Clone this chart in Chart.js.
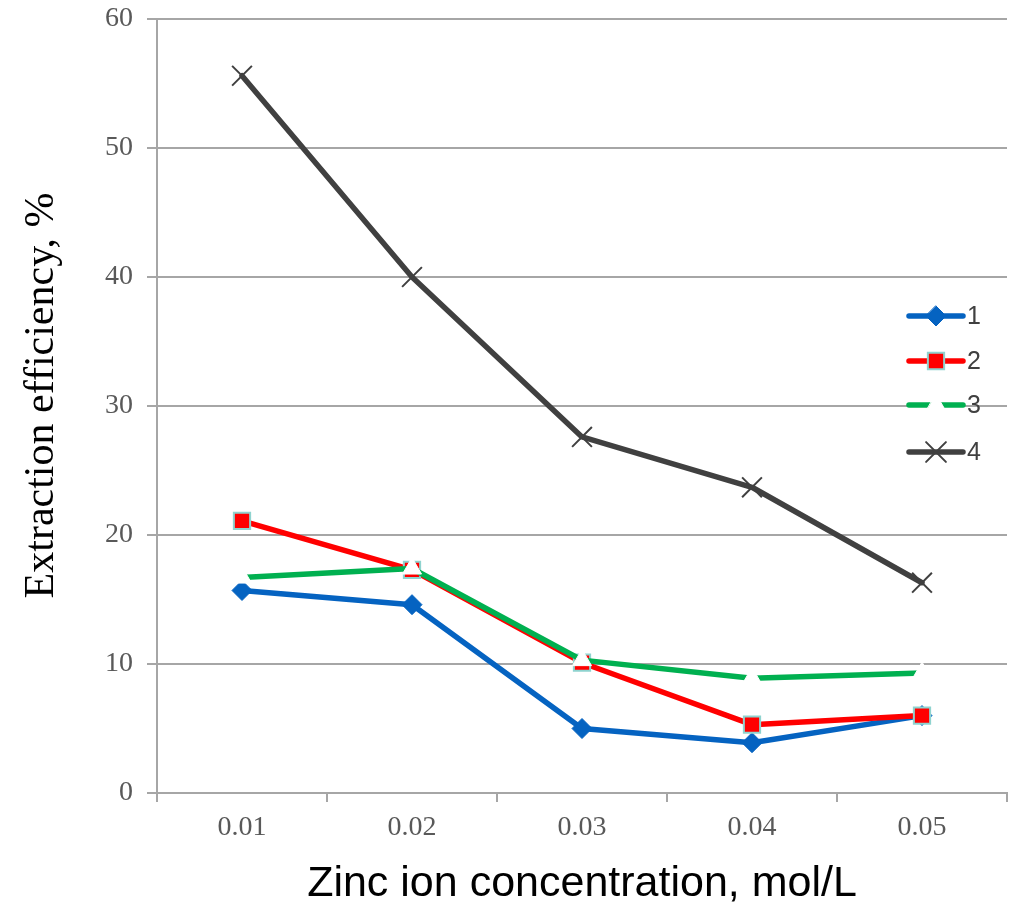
<!DOCTYPE html>
<html>
<head>
<meta charset="utf-8">
<script src="https://cdn.jsdelivr.net/npm/chart.js@4/dist/chart.umd.min.js"></script>
<style>
html,body{margin:0;padding:0;background:#fff;}
#wrap{width:1018px;height:906px;position:relative;}
</style>
</head>
<body>
<div id="wrap"><canvas id="c" width="1018" height="906"></canvas></div>
<script>
const categories = ["0.01", "0.02", "0.03", "0.04", "0.05"];
const seriesNames = ["1", "2", "3", "4"];
const series1 = [15.7, 14.6, 5.0, 3.9, 6.0];
const series2 = [21.1, 17.3, 10.1, 5.3, 6.0];
const series3 = [16.7, 17.4, 10.3, 8.9, 9.3];
const series4 = [55.6, 40.0, 27.6, 23.7, 16.3];
const yTicks = [0, 10, 20, 30, 40, 50, 60];

const styles = [
  {color:'#0563C1', pointStyle:'rectRot', radius:10, fill:'#0563C1', border:'#0563C1', bw:1},
  {color:'#FF0000', pointStyle:'rect', radius:11.5, fill:'#FF0000', border:'#8FD3CF', bw:2},
  {color:'#00B050', pointStyle:'triangle', radius:11, fill:'#FFFFFF', border:'#FFFFFF', bw:1},
  {color:'#404040', pointStyle:'crossRot', radius:14, fill:'#404040', border:'#404040', bw:2}
];
const allData = [series1, series2, series3, series4];

const datasets = allData.map((d, i) => ({
  label: seriesNames[i],
  data: d,
  borderColor: styles[i].color,
  backgroundColor: styles[i].color,
  borderWidth: 5.5,
  borderCapStyle: 'round',
  borderJoinStyle: 'round',
  pointStyle: styles[i].pointStyle,
  pointRadius: styles[i].radius,
  pointHoverRadius: styles[i].radius,
  pointBackgroundColor: styles[i].fill,
  pointBorderColor: styles[i].border,
  pointBorderWidth: styles[i].bw,
  tension: 0,
  clip: false,
  order: 4 - i
}));

function drawMarker(ctx, st, x, y) {
  ctx.save();
  ctx.fillStyle = st.fill;
  ctx.strokeStyle = st.border;
  ctx.lineWidth = st.bw;
  const r = st.radius;
  ctx.beginPath();
  if (st.pointStyle === 'rectRot') {
    ctx.moveTo(x, y - r); ctx.lineTo(x + r, y); ctx.lineTo(x, y + r); ctx.lineTo(x - r, y); ctx.closePath();
    ctx.fill(); ctx.stroke();
  } else if (st.pointStyle === 'rect') {
    const s = r * Math.SQRT1_2;
    ctx.rect(x - s, y - s, 2 * s, 2 * s); ctx.fill(); ctx.stroke();
  } else if (st.pointStyle === 'triangle') {
    ctx.moveTo(x, y - r);
    ctx.lineTo(x + r * Math.sin(Math.PI / 3), y + r / 2);
    ctx.lineTo(x - r * Math.sin(Math.PI / 3), y + r / 2);
    ctx.closePath(); ctx.fill(); ctx.stroke();
  } else if (st.pointStyle === 'crossRot') {
    const d = r * Math.SQRT1_2;
    ctx.moveTo(x - d, y - d); ctx.lineTo(x + d, y + d);
    ctx.moveTo(x + d, y - d); ctx.lineTo(x - d, y + d);
    ctx.stroke();
  }
  ctx.restore();
}

const legendPlugin = {
  id: 'customLegend',
  afterDraw(chart) {
    const ctx = chart.ctx;
    const x0 = 909, x1 = 963, tx = 967;
    const ys = [316, 361, 405, 452];
    ctx.save();
    seriesNames.forEach((name, i) => {
      const y = ys[i];
      ctx.strokeStyle = styles[i].color;
      ctx.lineWidth = 5.5;
      ctx.lineCap = 'round';
      ctx.beginPath(); ctx.moveTo(x0, y); ctx.lineTo(x1, y); ctx.stroke();
      drawMarker(ctx, styles[i], (x0 + x1) / 2, y);
      ctx.fillStyle = '#404040';
      ctx.font = '25px "Liberation Sans", Arial, sans-serif';
      ctx.textBaseline = 'middle';
      ctx.textAlign = 'left';
      ctx.fillText(name, tx, y + 1);
    });
    ctx.restore();
  }
};

new Chart(document.getElementById('c'), {
  type: 'line',
  data: { labels: categories, datasets },
  options: {
    responsive: false,
    animation: false,
    devicePixelRatio: 1,
    layout: { autoPadding: false, padding: { top: 19, right: 11, left: 0, bottom: 0 } },
    plugins: { legend: { display: false }, tooltip: { enabled: false } },
    scales: {
      x: {
        type: 'category',
        offset: true,
        grid: { offset: true, drawOnChartArea: false, drawTicks: true, tickLength: 9, color: '#A6A6A6', lineWidth: 2 },
        border: { display: true, color: '#A6A6A6', width: 2 },
        ticks: { color: '#595959', font: { family: '"Liberation Serif", "Times New Roman", serif', size: 28 }, padding: 9, maxRotation: 0 },
        title: { display: true, text: 'Zinc ion concentration, mol/L', color: '#000000', font: { family: '"Liberation Sans", Arial, sans-serif', size: 43, lineHeight: 1 }, padding: { top: 0, bottom: 0 } },
        afterFit(scale) { scale.height = 113; scale.paddingLeft = 0; scale.paddingRight = 0; }
      },
      y: {
        min: 0, max: 60,
        afterBuildTicks(scale) { scale.ticks = yTicks.map(v => ({ value: v })); },
        grid: { drawOnChartArea: true, drawTicks: true, tickLength: 10, color: '#A6A6A6', lineWidth: 2 },
        border: { display: true, color: '#A6A6A6', width: 2 },
        ticks: { color: '#595959', font: { family: '"Liberation Serif", "Times New Roman", serif', size: 28 }, padding: 14 },
        title: { display: true, text: '  Extraction efficiency, %', color: '#000000', font: { family: '"Liberation Serif", "Times New Roman", serif', size: 42, lineHeight: 1 }, padding: { top: 21, bottom: 0 } },
        afterFit(scale) { scale.width = 157; scale.paddingTop = 0; scale.paddingBottom = 0; }
      }
    }
  },
  plugins: [legendPlugin]
});
</script>
</body>
</html>
